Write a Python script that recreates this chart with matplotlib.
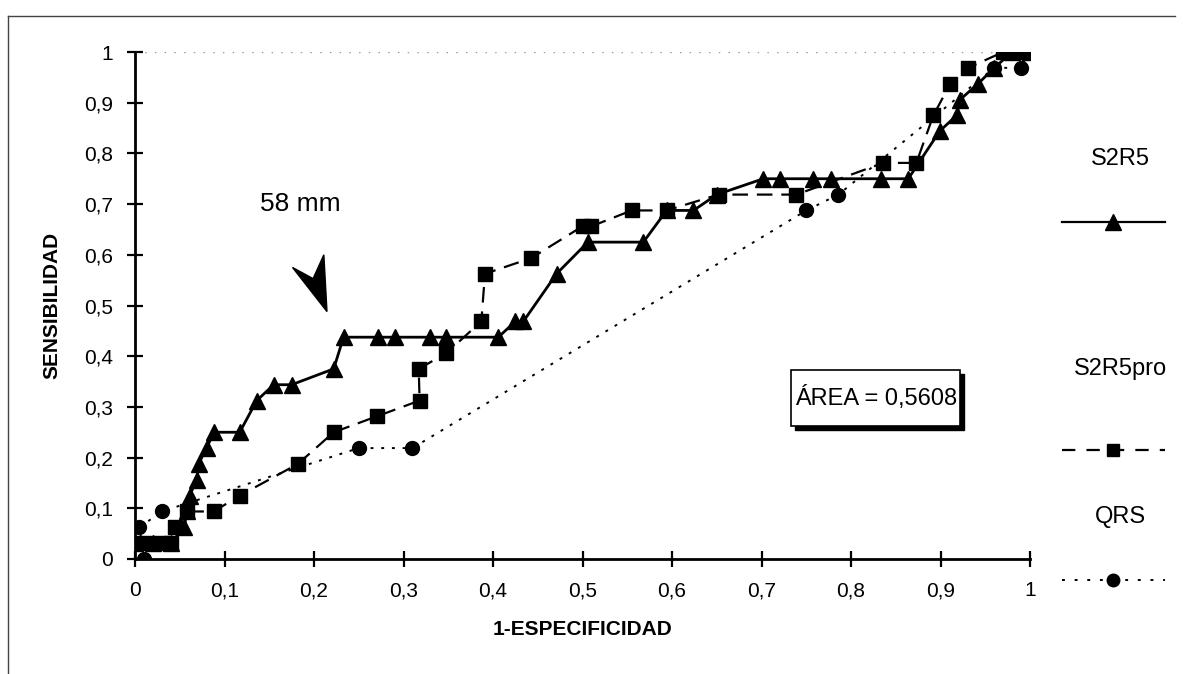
import matplotlib
matplotlib.use("Agg")
import matplotlib.pyplot as plt
from matplotlib.lines import Line2D
from matplotlib.patches import Polygon, Rectangle

plt.rcParams['font.family'] = ['Liberation Sans', 'DejaVu Sans']

# S2R5 (triangles, solid)
s2r5_x = [0.0, 0.02, 0.04, 0.055, 0.058, 0.061, 0.069, 0.071, 0.080, 0.088, 0.117, 0.136, 0.155,
          0.175, 0.222, 0.233, 0.272, 0.29, 0.33, 0.348, 0.406, 0.425, 0.434, 0.471, 0.506,
          0.568, 0.594, 0.624, 0.65, 0.702, 0.721, 0.758, 0.778, 0.834, 0.864, 0.899, 0.918,
          0.922, 0.942, 0.96, 0.98, 1.0]
s2r5_y = [0.03125, 0.03125, 0.03125, 0.0625, 0.09375, 0.125, 0.15625, 0.1875, 0.21875, 0.25, 0.25,
          0.3125, 0.34375, 0.34375, 0.375, 0.4375, 0.4375, 0.4375, 0.4375, 0.4375, 0.4375,
          0.46875, 0.46875, 0.5625, 0.625, 0.625, 0.6875, 0.6875, 0.71875, 0.75, 0.75, 0.75,
          0.75, 0.75, 0.75, 0.84375, 0.875, 0.90625, 0.9375, 0.96875, 1.0, 1.0]

# S2R5pro (squares, dashed)
s2r5pro_x = [0.0, 0.015, 0.03, 0.04, 0.045, 0.058, 0.088, 0.117, 0.182, 0.222, 0.27, 0.318,
             0.317, 0.348, 0.387, 0.391, 0.443, 0.50, 0.51, 0.555, 0.594, 0.652, 0.739, 0.836,
             0.873, 0.892, 0.911, 0.931, 0.97, 0.985, 1.0]
s2r5pro_y = [0.03125, 0.03125, 0.03125, 0.03125, 0.0625, 0.09375, 0.09375, 0.125, 0.1875, 0.25,
             0.28125, 0.3125, 0.375, 0.40625, 0.46875, 0.5625, 0.59375, 0.65625, 0.65625, 0.6875,
             0.6875, 0.71875, 0.71875, 0.78125, 0.78125, 0.875, 0.9375, 0.96875, 1.0, 1.0, 1.0]

# QRS (circles, dotted)
qrs_x = [0.01, 0.005, 0.03, 0.25, 0.31, 0.75, 0.786, 0.96, 0.99, 1.0]
qrs_y = [0.0, 0.0625, 0.09375, 0.21875, 0.21875, 0.6875, 0.71875, 0.96875, 0.96875, 1.0]

ticks = [i / 10 for i in range(11)]
tick_labels = ["0", "0,1", "0,2", "0,3", "0,4", "0,5", "0,6", "0,7", "0,8", "0,9", "1"]

W, H = 1183, 674
fig = plt.figure(figsize=(W / 100, H / 100), dpi=100)
fig.patch.set_facecolor('white')
ax = fig.add_axes([135 / W, 1 - 559 / H, (1030 - 135) / W, (559 - 52) / H])

ax.plot(qrs_x, qrs_y, color='black', linestyle=(0, (1.5, 4)), linewidth=1.4,
        marker='o', markersize=10, zorder=3)
ax.plot(s2r5pro_x, s2r5pro_y, color='black', linestyle=(0, (7, 4)), linewidth=1.6,
        marker='s', markersize=10, zorder=4)
ax.plot(s2r5_x, s2r5_y, color='black', linestyle='-', linewidth=2.0,
        marker='^', markersize=11, zorder=5)

ax.set_xlim(0, 1)
ax.set_ylim(0, 1)
ax.set_xticks(ticks)
ax.set_xticklabels(tick_labels)
ax.set_yticks(ticks)
ax.set_yticklabels(tick_labels)
ax.tick_params(direction='inout', length=12, width=1.6, labelsize=15, pad=10)
for s in ['top', 'right']:
    ax.spines[s].set_visible(False)
for s in ['left', 'bottom']:
    ax.spines[s].set_linewidth(2)
ax.axhline(1, color='#999999', linestyle=(0, (1, 6)), linewidth=1, zorder=1)

ax.set_ylabel("SENSIBILIDAD", fontsize=15, fontweight='bold', labelpad=16)
ax.set_xlabel("1-ESPECIFICIDAD", fontsize=15, fontweight='bold', labelpad=14)

# annotations
ax.text(0.185, 0.70, "58 mm", fontsize=19, ha='center', va='center')
arrow = Polygon([(0.2145, 0.488), (0.176, 0.575), (0.199, 0.553), (0.211, 0.600)],
                closed=True, facecolor='black', edgecolor='black', zorder=6)
ax.add_patch(arrow)

bx0, bx1, by0, by1 = 0.733, 0.922, 0.262, 0.372
ax.add_patch(Rectangle((bx0 + 0.004, by0 - 0.008), bx1 - bx0, by1 - by0,
                       facecolor='black', edgecolor='black', zorder=7))
ax.add_patch(Rectangle((bx0, by0), bx1 - bx0, by1 - by0,
                       facecolor='white', edgecolor='black', linewidth=1.2, zorder=8))
ax.text((bx0 + bx1) / 2, (by0 + by1) / 2, "ÁREA = 0,5608", fontsize=17,
        ha='center', va='center', zorder=9)

# legend (manual, right side)
fig.text(1120 / W, 1 - 159 / H, "S2R5", fontsize=17, ha='center', va='center')
fig.text(1120 / W, 1 - 369 / H, "S2R5pro", fontsize=17, ha='center', va='center')
fig.text(1120 / W, 1 - 517 / H, "QRS", fontsize=17, ha='center', va='center')
lx = [1062 / W, 1165 / W]
fig.add_artist(Line2D(lx, [1 - 222 / H] * 2, color='black', linewidth=1.6))
fig.add_artist(Line2D([1113 / W], [1 - 222 / H], color='black', marker='^', markersize=11))
fig.add_artist(Line2D(lx, [1 - 450 / H] * 2, color='black', linewidth=1.6,
                      linestyle=(0, (6, 5))))
fig.add_artist(Line2D([1113 / W], [1 - 450 / H], color='black', marker='s', markersize=8))
fig.add_artist(Line2D(lx, [1 - 580 / H] * 2, color='black', linewidth=1.4,
                      linestyle=(0, (1.5, 5))))
fig.add_artist(Line2D([1113 / W], [1 - 580 / H], color='black', marker='o', markersize=9))

# figure border (left and top)
fig.add_artist(Line2D([8 / W, 8 / W], [0, 1 - 16 / H], color='#444444', linewidth=1))
fig.add_artist(Line2D([8 / W, 1175 / W], [1 - 16 / H] * 2, color='#444444', linewidth=1))

fig.savefig("out.png", dpi=100, facecolor='white')
